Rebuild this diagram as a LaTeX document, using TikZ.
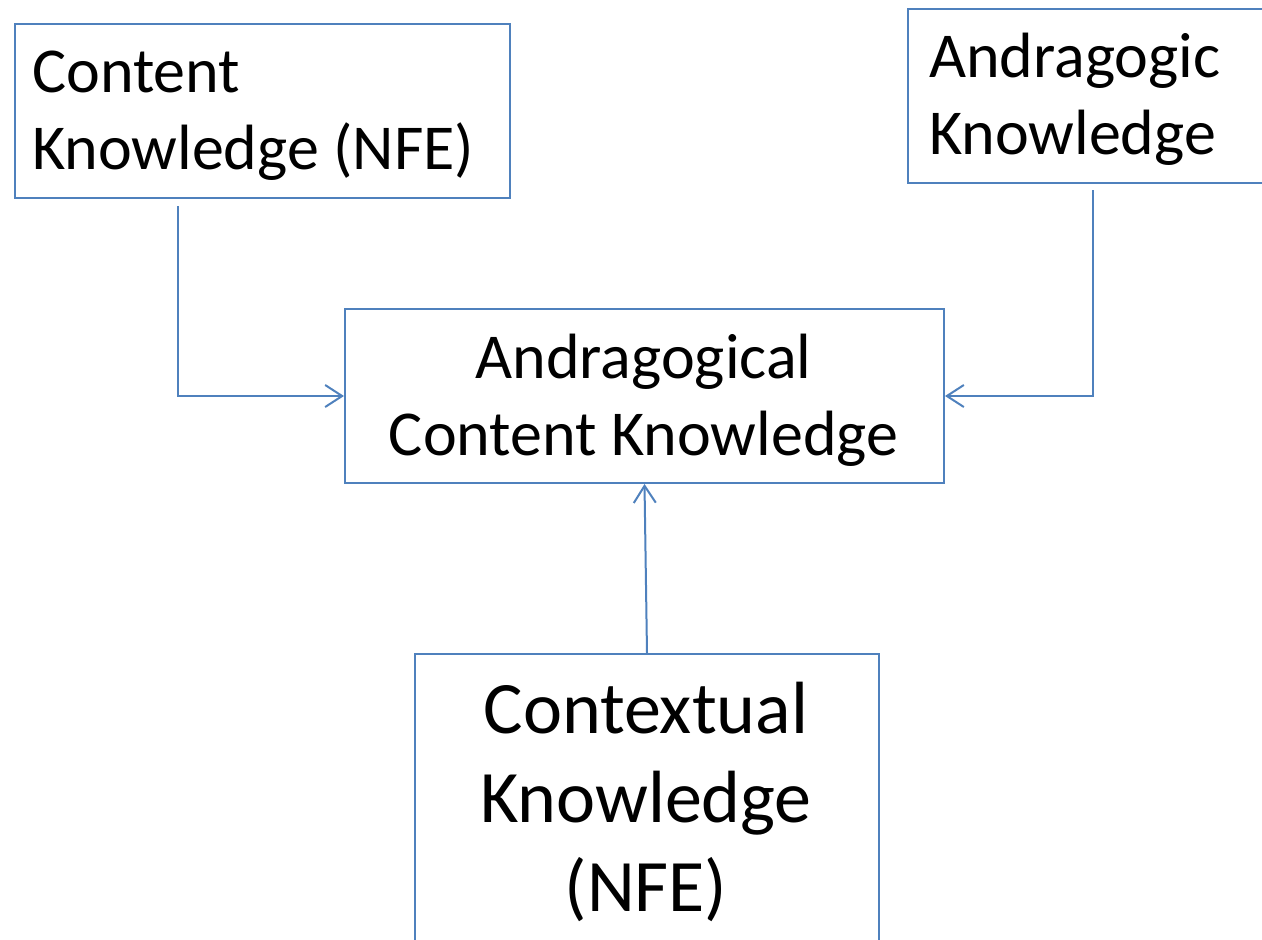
\documentclass[tikz,border=0pt]{standalone}
\usepackage{fontspec}
\setmainfont{Carlito}
\usetikzlibrary{arrows.meta,calc}
\definecolor{boxblue}{RGB}{79,129,189}
\begin{document}
\begin{tikzpicture}[x=1pt,y=-1pt,
  box/.style={draw=boxblue, line width=2pt, rectangle, inner sep=0pt, anchor=north west},
  conn/.style={draw=boxblue, line width=2pt, -{Straight Barb[length=17pt,width=22pt]}},
  small/.style={font=\fontsize{64}{77}\selectfont, inner sep=0pt},
  big/.style={font=\fontsize{74}{89}\selectfont, inner sep=0pt}]
\clip (0,0) rectangle (1262,940);

% boxes
\node[box, minimum width=495pt, minimum height=174pt] (ck)  at (14,23)  {};
\node[box, minimum width=400pt, minimum height=174pt] (ak)  at (907,8)  {};
\node[box, minimum width=599pt, minimum height=174pt] (ack) at (344,308) {};
\node[box, minimum width=464pt, minimum height=360pt] (ctx) at (414,653) {};

% labels
\node[small, anchor=base west] (ckt) at (32,92)
  {\begin{tabular}[t]{@{}l@{}}Content\\Knowledge (NFE)\end{tabular}};
\node[small, anchor=base west] (akt) at (929,77)
  {\begin{tabular}[t]{@{}l@{}}Andragogic\\Knowledge\end{tabular}};
\node[small, anchor=base] (ackt) at (643.5,378)
  {\begin{tabular}[t]{@{}c@{}}Andragogical\\Content Knowledge\end{tabular}};
\node[big, anchor=base] (ctxt) at (646,733)
  {\begin{tabular}[t]{@{}c@{}}Contextual\\Knowledge\\(NFE)\end{tabular}};

% connectors
\draw[conn] ($(ck.south west)+(164,7)$) |- (ack.west);
\draw[conn] ($(ak.south west)+(186,6)$) |- (ack.east);
\draw[conn] (ctx.north) -- (ack.south);
\end{tikzpicture}
\end{document}
